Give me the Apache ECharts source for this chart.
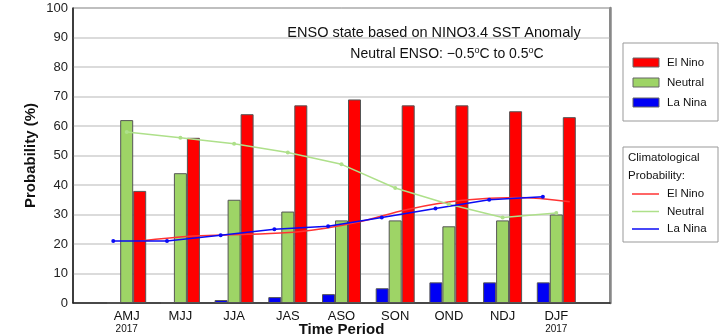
<!DOCTYPE html>
<html>
<head>
<meta charset="utf-8">
<script src="https://cdn.jsdelivr.net/npm/echarts@6/dist/echarts.min.js"></script>
<style>
html,body{margin:0;padding:0;background:#fff;}
#chart{width:727px;height:335px;}
</style>
</head>
<body>
<div id="chart"></div>
<script>
// ---- data ----
const categories = ['AMJ','MJJ','JJA','JAS','ASO','SON','OND','NDJ','DJF'];
const yearLabels = {AMJ:'2017', DJF:'2017'};
const elNino  = [38,56,64,67,69,67,67,65,63];
const neutral = [62,44,35,31,28,28,26,28,30];
const laNina  = [0,0,1,2,3,5,7,7,7];
const climElNino  = [21,22.7,23.3,24.2,27.2,31.8,34.8,35.8,34.3];
const climNeutral = [58,56,54,51,47,39,33.5,29,30.5];
const climLaNina  = [21,21,23,25,26,29,32,35,36];
const yTicks = [0,10,20,30,40,50,60,70,80,90,100];

// ---- styles ----
const C_RED = '#ff0000', C_GREEN = '#9ed466', C_BLUE = '#0000f5';
const L_RED = '#ff3333', L_GREEN = '#aee08a', L_BLUE = '#0a0af5';
const FONT = '"Liberation Sans", Arial, Helvetica, sans-serif';
const OFF = 0.25; // offset of side bars in category units

const axisCats = [''].concat(categories, ['']);
const linePts = (arr, off) => arr.map((v, i) => [i + 1 + off, v]);

const chart = echarts.init(document.getElementById('chart'), null, {renderer:'canvas'});

const barStyle = c => ({color: c, borderColor: '#555', borderWidth: 1});
const LF = '11.5px ' + FONT;

const legendX = 623, legendW = 95;
const graphic = [
  // legend box 1
  {type:'rect', shape:{x:legendX, y:43, width:legendW, height:78}, style:{fill:'#fff', stroke:'#999', lineWidth:1}},
  {type:'rect', shape:{x:633, y:58, width:26, height:9}, style:{fill:C_RED, stroke:'#666', lineWidth:1}},
  {type:'rect', shape:{x:633, y:78, width:26, height:9}, style:{fill:C_GREEN, stroke:'#666', lineWidth:1}},
  {type:'rect', shape:{x:633, y:98, width:26, height:9}, style:{fill:C_BLUE, stroke:'#666', lineWidth:1}},
  {type:'text', x:667, y:62.5, style:{text:'El Nino', font:LF, fill:'#111', textVerticalAlign:'middle'}},
  {type:'text', x:667, y:82.5, style:{text:'Neutral', font:LF, fill:'#111', textVerticalAlign:'middle'}},
  {type:'text', x:667, y:102.5, style:{text:'La Nina', font:LF, fill:'#111', textVerticalAlign:'middle'}},
  // legend box 2
  {type:'rect', shape:{x:legendX, y:147, width:legendW, height:95}, style:{fill:'#fff', stroke:'#999', lineWidth:1}},
  {type:'text', x:628, y:158, style:{text:'Climatological', font:LF, fill:'#111', textVerticalAlign:'middle'}},
  {type:'text', x:628, y:176, style:{text:'Probability:', font:LF, fill:'#111', textVerticalAlign:'middle'}},
  {type:'line', shape:{x1:632, y1:194, x2:659, y2:194}, style:{stroke:L_RED, lineWidth:1.5}},
  {type:'line', shape:{x1:632, y1:211.5, x2:659, y2:211.5}, style:{stroke:L_GREEN, lineWidth:1.5}},
  {type:'line', shape:{x1:632, y1:229, x2:659, y2:229}, style:{stroke:L_BLUE, lineWidth:1.5}},
  {type:'text', x:667, y:194, style:{text:'El Nino', font:LF, fill:'#111', textVerticalAlign:'middle'}},
  {type:'text', x:667, y:211.5, style:{text:'Neutral', font:LF, fill:'#111', textVerticalAlign:'middle'}},
  {type:'text', x:667, y:229, style:{text:'La Nina', font:LF, fill:'#111', textVerticalAlign:'middle'}}
];

const option = {
  animation: false,
  textStyle: {fontFamily: FONT},
  title: [
    {text:'ENSO state based on NINO3.4 SST Anomaly', left:429, top:20, textAlign:'center',
     textStyle:{fontSize:14.5, fontWeight:'normal', color:'#111', fontFamily:FONT}},
    {text:'{n|Neutral ENSO: \u22120.5}{s|o}{n|C to 0.5}{s|o}{n|C}', left:442, top:41, textAlign:'center',
     textStyle:{fontWeight:'normal', rich:{n:{fontSize:14, fontWeight:'normal', color:'#111', fontFamily:FONT}, s:{fontSize:9, fontWeight:'normal', color:'#111', fontFamily:FONT, verticalAlign:'top', padding:[0,0,8,0]}}}}
  ],
  grid: {left:73, right:117, top:8, bottom:32, show:true, borderColor:'#222', borderWidth:1, backgroundColor:'#fff',
         containLabel:false, outerBoundsMode:'none'},
  xAxis: [
    {type:'category', data: axisCats, boundaryGap:false,
     axisLine:{lineStyle:{color:'#222', width:1.5}}, axisTick:{show:false},
     axisLabel:{interval:0, margin:6,
       formatter:(v)=> yearLabels[v] ? `{m|${v}}\n{y|${yearLabels[v]}}` : `{m|${v}}`,
       rich:{m:{fontSize:13, color:'#111', lineHeight:14, fontFamily:FONT}, y:{fontSize:10, color:'#111', lineHeight:12, fontFamily:FONT}}},
     name:'Time Period', nameLocation:'middle', nameGap:19, nameMoveOverlap:false,
     nameTextStyle:{fontSize:15, fontWeight:'bold', color:'#111', fontFamily:FONT}},
    {type:'value', min:0, max:10, show:false}
  ],
  yAxis: [
    {type:'value', min:0, max:100, interval:10,
     axisLine:{show:true, lineStyle:{color:'#222', width:1.5}}, axisTick:{show:false},
     axisLabel:{fontSize:13, color:'#222', margin:5, fontFamily:FONT,
       customValues: yTicks},
     splitLine:{lineStyle:{color:'#cfcfcf', width:1.5}},
     name:'Probability (%)', nameLocation:'middle', nameGap:35, nameMoveOverlap:false,
     nameTextStyle:{fontSize:15, fontWeight:'bold', color:'#111', fontFamily:FONT}},
    {type:'value', min:0, max:100, position:'right', axisLine:{show:true, lineStyle:{color:'#888', width:2.5}},
     axisLabel:{show:false}, axisTick:{show:false}, splitLine:{show:false}}
  ],
  series: [
    {name:'La Nina', type:'bar', data: [null].concat(laNina, [null]), barWidth:13, barGap:'0%', itemStyle: barStyle(C_BLUE), z:2},
    {name:'Neutral', type:'bar', data: [null].concat(neutral, [null]), barWidth:13, barGap:'0%', itemStyle: barStyle(C_GREEN), z:2},
    {name:'El Nino', type:'bar', data: [null].concat(elNino, [null]), barWidth:13, barGap:'0%', itemStyle: barStyle(C_RED), z:2},
    {name:'Clim El Nino', type:'line', xAxisIndex:1, data: linePts(climElNino, OFF), smooth:0.4, symbol:'none',
     lineStyle:{color:L_RED, width:1.5}, z:5},
    {name:'Clim Neutral', type:'line', xAxisIndex:1, data: linePts(climNeutral, 0), symbol:'circle', symbolSize:4,
     itemStyle:{color:L_GREEN}, lineStyle:{color:L_GREEN, width:1.5}, z:5},
    {name:'Clim La Nina', type:'line', xAxisIndex:1, data: linePts(climLaNina, -OFF), symbol:'circle', symbolSize:4,
     itemStyle:{color:L_BLUE}, lineStyle:{color:L_BLUE, width:1.5}, z:5}
  ],
  graphic: graphic
};
chart.setOption(option);
</script>
</body>
</html>
